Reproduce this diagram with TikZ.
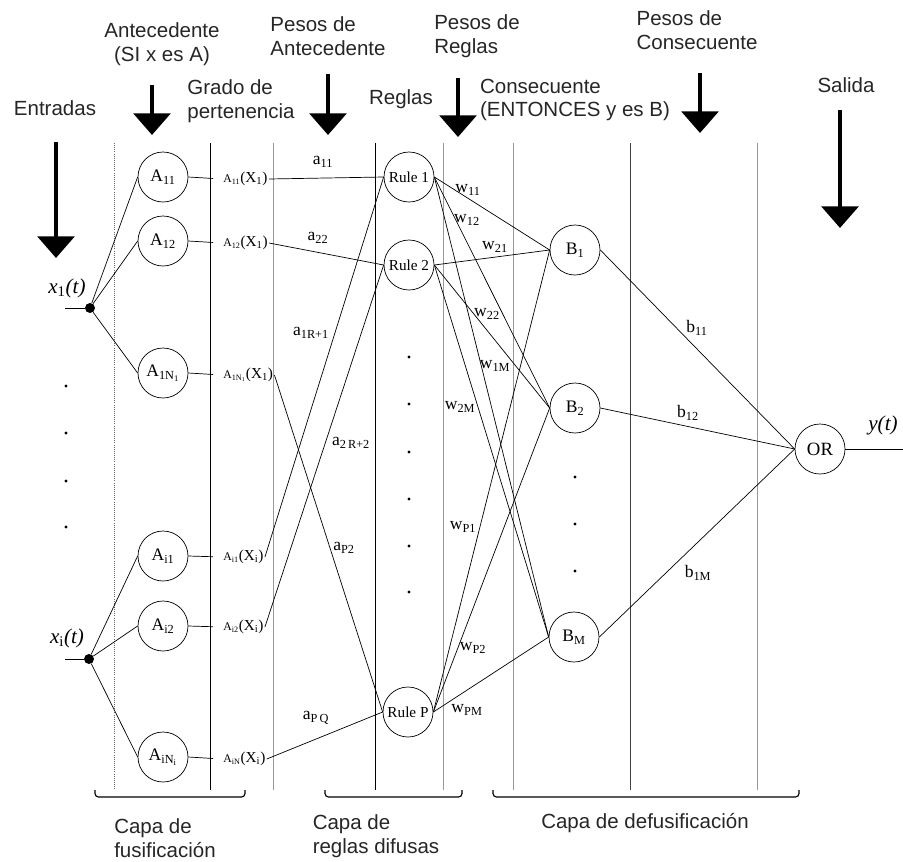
\documentclass[tikz,border=0pt]{standalone}
\usepackage{fontspec}
\setmainfont{Liberation Serif}
\newfontfamily\labelfont{Liberation Sans}
\usetikzlibrary{arrows.meta}

\begin{document}
\begin{tikzpicture}[x=0.03cm,y=-0.03cm,
  neuron/.style={draw,circle,minimum size=1.5cm,inner sep=0pt,line width=0.6pt,font=\fontsize{15}{15}\selectfont},
  rulenode/.style={neuron,font=\fontsize{13}{13}\selectfont},
  layer/.style={font=\labelfont\fontsize{17.5}{20}\selectfont,align=left,text=black!85},
  memb/.style={font=\fontsize{13}{13}\selectfont,inner sep=1pt,anchor=west},
  weight/.style={font=\fontsize{15}{15}\selectfont,inner sep=0pt},
  link/.style={line width=0.6pt},
  guide/.style={line width=0.8pt,black!40},
  gdot/.style={densely dotted,black!60},
  gdark/.style={black},
  gmid/.style={black!75},
  glight/.style={},
  bigarrow/.style={line width=3.6pt,-{Triangle[width=1.1cm,length=0.65cm]}},
  layerbrace/.style={line width=1pt,rounded corners=3pt}]
\useasboundingbox (0,0) rectangle (903,861);

% layer guides
\foreach \x/\sty in {114/gdot,210/gdark,273/glight,375/gdark,443/glight,513/glight,630/gmid,757/glight}
  \draw[guide,\sty] (\x,143) -- (\x,790);

% top captions and arrows
\node[layer] (entradas) at (55,108) {Entradas};
\node[layer,align=center] (antec) at (162,44) {Antecedente\\(SI x es A)};
\node[layer] (grado) at (241,101) {Grado de\\pertenencia};
\node[layer] (pesosant) at (328,36) {Pesos de\\Antecedente};
\node[layer] (pesosreg) at (477,36) {Pesos de\\Reglas};
\node[layer] (reglas) at (401,99) {Reglas};
\node[layer] (consec) at (575,100) {Consecuente\\(ENTONCES y es B)};
\node[layer] (pesoscons) at (697,30) {Pesos de\\Consecuente};
\node[layer] (salida) at (846,85) {Salida};
\foreach \n/\x/\ya/\yb in {ent/56/142/258,ant/152/85/135,pant/328/74/135,preg/458/78/137,pcons/700/73/133,sal/840/110/228}{
  \coordinate (top\n) at (\x,\ya);
  \coordinate (tip\n) at (\x,\yb);
  \draw[bigarrow] (top\n) -- (tip\n);
}

% inputs
\coordinate (xin1) at (65,308);
\coordinate (xini) at (65,659);
\node[circle,fill,inner sep=0pt,minimum size=0.3cm] (j1) at (90,308) {};
\node[circle,fill,inner sep=0pt,minimum size=0.3cm] (ji) at (89,659) {};
\node[font=\fontsize{18}{18}\selectfont\itshape] (x1lab) at (67,288) {x\textsubscript{\upshape 1}(t)};
\node[font=\fontsize{18}{18}\selectfont\itshape] (xilab) at (67,638) {x\textsubscript{\upshape i}(t)};
\draw[link] (xin1) -- (j1);
\draw[link] (xini) -- (ji);
\foreach \y in {386,433,481,527}
  \fill (66,\y) circle (1.6);

% fuzzification layer
\node[neuron] (A11) at (163,177) {A\textsubscript{11}};
\node[neuron] (A12) at (163,241) {A\textsubscript{12}};
\node[neuron] (A1N) at (163,373) {A\textsubscript{1N\textsubscript{1}}};
\node[neuron] (Ai1) at (163,556) {A\textsubscript{i1}};
\node[neuron] (Ai2) at (163,626) {A\textsubscript{i2}};
\node[neuron] (AiN) at (163,757) {A\textsubscript{iN\textsubscript{i}}};
\foreach \a in {A11,A12,A1N}
  \draw[link] (j1) -- (\a.west);
\foreach \a in {Ai1,Ai2,AiN}
  \draw[link] (ji) -- (\a.west);

% membership degrees
\node[memb] (m11) at (222,179) {{\fontsize{10}{10}\selectfont A\textsubscript{11}}(X\textsubscript{1})};
\node[memb] (m12) at (222,243) {{\fontsize{10}{10}\selectfont A\textsubscript{12}}(X\textsubscript{1})};
\node[memb] (m1N) at (222,375) {{\fontsize{10}{10}\selectfont A\textsubscript{1N\textsubscript{1}}}(X\textsubscript{1})};
\node[memb] (mi1) at (222,557) {{\fontsize{10}{10}\selectfont A\textsubscript{i1}}(X\textsubscript{i})};
\node[memb] (mi2) at (222,627) {{\fontsize{10}{10}\selectfont A\textsubscript{i2}}(X\textsubscript{i})};
\node[memb] (miN) at (222,759) {{\fontsize{10}{10}\selectfont A\textsubscript{iN}}(X\textsubscript{i})};
\foreach \a/\m in {A11/m11,A12/m12,A1N/m1N,Ai1/mi1,Ai2/mi2,AiN/miN}
  \draw[link,shorten >=0.27cm] (\a.east) -- (\m.west);

% fuzzy rules
\node[rulenode] (R1) at (409,177) {Rule 1};
\node[rulenode] (R2) at (409,265) {Rule 2};
\node[rulenode] (RP) at (408,712) {Rule P};
\foreach \y in {357,404,452,499,546,592}
  \fill (409,\y) circle (1.6);
\foreach \m/\r in {m11/R1,m12/R2,m1N/RP,mi1/R1,mi2/R2,miN/RP}
  \draw[link] (\m.east) -- (\r.west);
\node[weight] (a11) at (323,162) {a\textsubscript{11}};
\node[weight] (a22) at (318,238) {a\textsubscript{22}};
\node[weight] (a1R) at (311,333) {a\textsubscript{1R+1}};
\node[weight] (a2R) at (351,443) {a\textsubscript{2\,R+2}};
\node[weight] (aP2) at (344,548) {a\textsubscript{P2}};
\node[weight] (aPQ) at (316,718) {a\textsubscript{P\,Q}};

% consequents
\node[neuron] (B1) at (575,250) {B\textsubscript{1}};
\node[neuron] (B2) at (575,408) {B\textsubscript{2}};
\node[neuron] (BM) at (574,637) {B\textsubscript{M}};
\foreach \y in {477,524,571}
  \fill (575,\y) circle (1.6);
\foreach \r in {R1,R2,RP}
  \foreach \b in {B1,B2,BM}
    \draw[link] (\r.east) -- (\b.west);
\node[weight] (w11) at (468,190) {w\textsubscript{11}};
\node[weight] (w12) at (467,220) {w\textsubscript{12}};
\node[weight] (w21) at (495,247) {w\textsubscript{21}};
\node[weight] (w22) at (487,314) {w\textsubscript{22}};
\node[weight] (w1M) at (495,366) {w\textsubscript{1M}};
\node[weight] (w2M) at (460,407) {w\textsubscript{2M}};
\node[weight] (wP1) at (463,527) {w\textsubscript{P1}};
\node[weight] (wP2) at (473,648) {w\textsubscript{P2}};
\node[weight] (wPM) at (467,710) {w\textsubscript{PM}};

% output
\node[neuron,font=\fontsize{16}{16}\selectfont] (OR) at (820,449) {OR};
\coordinate (yout) at (903,449);
\foreach \b in {B1,B2,BM}
  \draw[link] (\b.east) -- (OR.west);
\draw[link] (OR.east) -- (yout);
\node[weight] (b11) at (697,328) {b\textsubscript{11}};
\node[weight] (b12) at (688,413) {b\textsubscript{12}};
\node[weight] (b1M) at (698,573) {b\textsubscript{1M}};
\node[font=\fontsize{18}{18}\selectfont\itshape] (ylab) at (883,425) {y(t)};

% layer braces
\foreach \xa/\xb in {95/245,325/462,493/799}
  \draw[layerbrace] (\xa,790) -- (\xa,797) -- (\xb,797) -- (\xb,790);
\node[layer] (capafus) at (165,838) {Capa de\\fusificación};
\node[layer] (capareg) at (376,836) {Capa de\\reglas difusas};
\node[layer] (capadef) at (645,823) {Capa de defusificación};
\end{tikzpicture}
\end{document}
